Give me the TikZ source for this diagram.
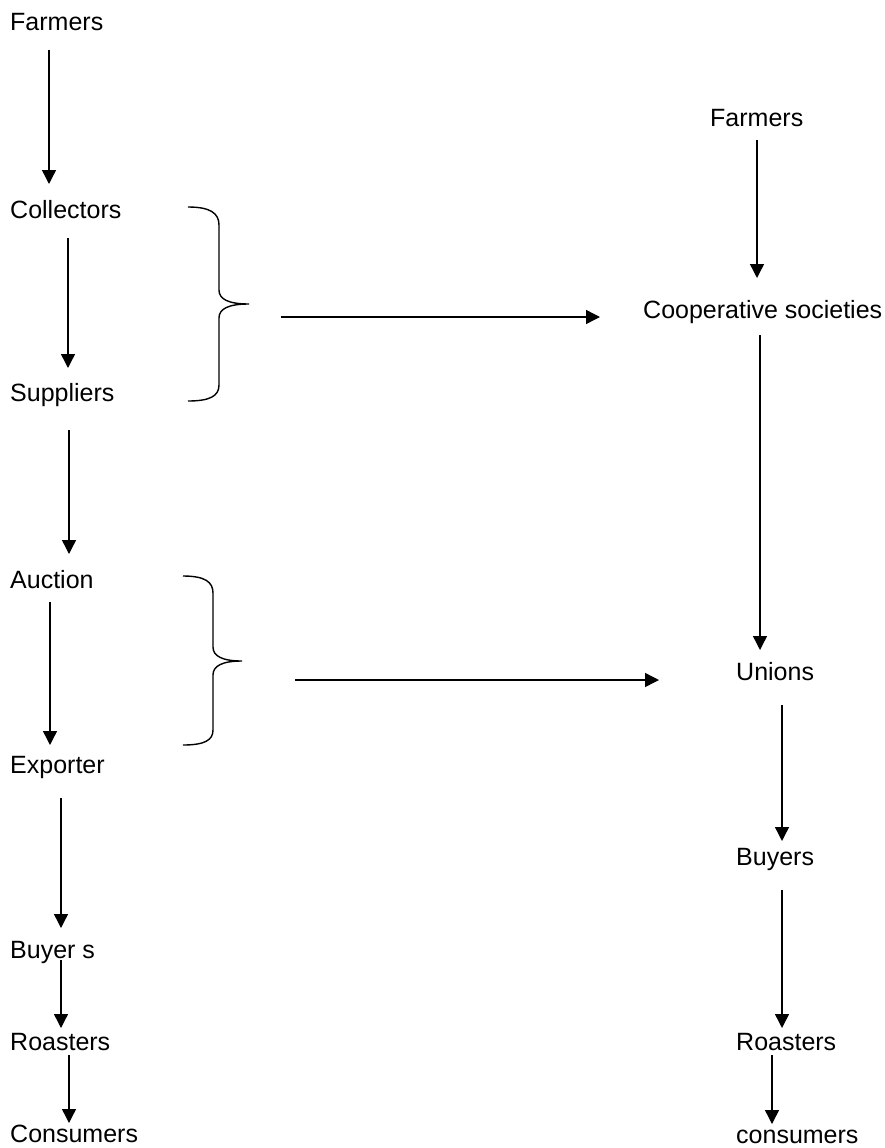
\documentclass[tikz,border=0pt]{standalone}
\usepackage{fontspec}
\setmainfont{Liberation Sans}
\usetikzlibrary{arrows.meta}

\begin{document}
\begin{tikzpicture}[x=1pt,y=-1pt,
		lbl/.style={anchor=base west,inner sep=0pt,font=\fontsize{25}{29}\selectfont},
		flow/.style={line width=1.4pt,-{Triangle[length=14pt,width=14pt]}},
		curly/.style={line width=1.4pt}]
		\useasboundingbox (0,0) rectangle (885,1148);
		
		% left chain
		\node (farmL)[lbl] at (10,31) {Farmers};
		\node (collL)[lbl] at (10,218) {Collectors};
		\node (suppL)[lbl] at (10,401) {Suppliers};
		\node (auctL)[lbl] at (10,588) {Auction};
		\node (expoL)[lbl] at (10,773) {Exporter};
		\node (buyL)[lbl] at (10,958) {Buyer s};
		\node (roastL)[lbl] at (10,1050) {Roasters};
		\node (consL)[lbl] at (10,1142) {Consumers};
		
		\draw[flow] ([shift={(39,19)}]farmL.base west) -- ([shift={(39,-34)}]collL.base west);
		\draw[flow] ([shift={(58,20)}]collL.base west) -- ([shift={(58,-33)}]suppL.base west);
		\draw[flow] ([shift={(59,29)}]suppL.base west) -- ([shift={(59,-34)}]auctL.base west);
		\draw[flow] ([shift={(40,14)}]auctL.base west) -- ([shift={(40,-28)}]expoL.base west);
		\draw[flow] ([shift={(51,25)}]expoL.base west) -- ([shift={(51,-30)}]buyL.base west);
		\draw[flow] ([shift={(51,2)}]buyL.base west) -- ([shift={(51,-22)}]roastL.base west);
		\draw[flow] ([shift={(59,5)}]roastL.base west) -- ([shift={(59,-19)}]consL.base west);
		
		% right chain
		\node (farmR)[lbl] at (710,126) {Farmers};
		\node (coop)[lbl] at (643,318) {Cooperative societies};
		\node (unions)[lbl] at (736,680) {Unions};
		\node (buyR)[lbl] at (736,865) {Buyers};
		\node (roastR)[lbl] at (736,1050) {Roasters};
		\node (consR)[lbl] at (736,1143) {consumers};
		
		\draw[flow] ([shift={(47,14)}]farmR.base west) -- ([shift={(114,-40)}]coop.base west);
		\draw[flow] ([shift={(117,17)}]coop.base west) -- ([shift={(24,-30)}]unions.base west);
		\draw[flow] ([shift={(46,25)}]unions.base west) -- ([shift={(46,-24)}]buyR.base west);
		\draw[flow] ([shift={(46,25)}]buyR.base west) -- ([shift={(46,-22)}]roastR.base west);
		\draw[flow] ([shift={(36,5)}]roastR.base west) -- ([shift={(36,-19)}]consR.base west);
		
		% braces
		\coordinate (tip1) at (249,304);
		\coordinate (tip2) at (242,661);
		\draw[curly] (188,207) .. controls (210,207) and (219,213) .. (219,225) -- (219,290)
			.. controls (219,299) and (228,304) .. (tip1)
			.. controls (228,304) and (219,309) .. (219,318) -- (219,385)
			.. controls (219,396) and (210,401) .. (188,401);
		\draw[curly] (183,576) .. controls (205,576) and (213,582) .. (213,593) -- (213,647)
			.. controls (213,656) and (222,661) .. (tip2)
			.. controls (222,661) and (213,666) .. (213,675) -- (213,730)
			.. controls (213,740) and (205,745) .. (183,745);
		
		\draw[flow] ([shift={(32,13)}]tip1) -- ([shift={(-43,-1)}]coop.base west);
		\draw[flow] ([shift={(53,19)}]tip2) -- ([shift={(-77,0)}]unions.base west);
	\end{tikzpicture}
\end{document}
